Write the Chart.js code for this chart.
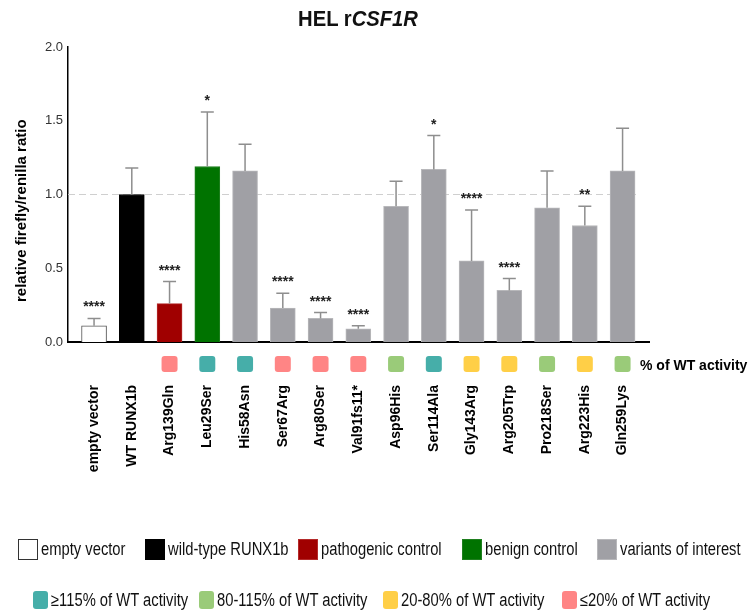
<!DOCTYPE html>
<html><head><meta charset="utf-8">
<script src="https://cdn.jsdelivr.net/npm/chart.js@4.4.1/dist/chart.umd.min.js"></script>
<style>
html,body{margin:0;padding:0;background:#fff;}
#wrap{position:relative;width:753px;height:614px;overflow:hidden;font-family:"Liberation Sans",Arial,sans-serif;}
#c{position:absolute;left:0;top:0;}
#title{position:absolute;top:8px;left:358px;transform:translateX(-50%) scaleX(0.92);white-space:nowrap;font-weight:bold;font-size:22px;line-height:22px;color:#111;}
.leg{position:absolute;display:flex;align-items:center;white-space:nowrap;font-family:"Liberation Sans",Arial,sans-serif;font-size:18px;color:#111;}
.sw{display:inline-block;box-sizing:border-box;margin-right:3px;flex:none;}
.lt{display:inline-block;transform:scaleX(0.82);transform-origin:0 50%;}
</style></head>
<body>
<div id="wrap">
<canvas id="c" width="753" height="614"></canvas>
<div id="title">HEL r<i>CSF1R</i></div>
</div>
<script>
// ---- data ----
const categories = ['empty vector','WT RUNX1b','Arg139Gln','Leu29Ser','His58Asn','Ser67Arg','Arg80Ser','Val91fs11*','Asp96His','Ser114Ala','Gly143Arg','Arg205Trp','Pro218Ser','Arg223His','Gln259Lys'];
const meanValues = [0.11,1.00,0.26,1.19,1.16,0.23,0.16,0.09,0.92,1.17,0.55,0.35,0.91,0.79,1.16];
const errorValues = [0.05,0.18,0.15,0.37,0.18,0.10,0.04,0.02,0.17,0.23,0.345,0.08,0.25,0.13,0.29];
const significance = ['****','','****','*','','****','****','****','','*','****','****','','**',''];
const barGroup = [0,1,2,3,4,4,4,4,4,4,4,4,4,4,4];
const activityClass = [null,null,3,0,0,3,3,3,1,0,2,2,1,2,1];
const yTickLabels = ['0.0','0.5','1.0','1.5','2.0'];

const groupLabels = ['empty vector','wild-type RUNX1b','pathogenic control','benign control','variants of interest'];
const groupColors = ['#ffffff','#000000','#a00000','#007300','#a0a0a5'];
const groupBorders = ['#555555','#000000','#b42a2a','#1f7f1f','#b8b8bb'];
const activityLabels = ['\u2265115% of WT activity','80-115% of WT activity','20-80% of WT activity','\u226420% of WT activity'];
const activityColors = ['#46aea9','#9acb79','#ffcf47','#ff8585'];
const yTitle = 'relative firefly/renilla ratio';

// ---- legends (HTML) ----
const wrap = document.getElementById('wrap');
function addItem(left, top, w, h, color, border, radius, label){
  const d = document.createElement('div'); d.className='leg';
  d.style.left = left+'px'; d.style.top = top+'px'; d.style.height = h+'px';
  const s = document.createElement('span'); s.className='sw';
  s.style.width=w+'px'; s.style.height=h+'px'; s.style.background=color;
  if (border) s.style.border = border;
  if (radius) s.style.borderRadius = radius+'px';
  const t = document.createElement('span'); t.className='lt'; t.textContent = label;
  d.appendChild(s); d.appendChild(t); wrap.appendChild(d);
}
const row1Left = [18,145,298,462,597];
groupLabels.forEach((lab,i)=> addItem(row1Left[i], 539, 20, 21, groupColors[i], i===0 ? '1.5px solid #333' : '1px solid '+groupBorders[i], 0, lab));
const row2Left = [33,199,383,562];
activityLabels.forEach((lab,i)=> addItem(row2Left[i], 591, 15, 18, activityColors[i], null, 3, lab));

// ---- overlay plugin ----
const FONT = '"Liberation Sans", Arial, sans-serif';
const overlay = {
  id:'overlay',
  beforeDatasetsDraw(chart){
    const {ctx, chartArea, scales:{x,y}} = chart;
    ctx.save();
    ctx.strokeStyle='#cfcfcf'; ctx.lineWidth=1.2; ctx.setLineDash([7,4]);
    const yy = y.getPixelForValue(1);
    ctx.beginPath(); ctx.moveTo(chartArea.left, yy); ctx.lineTo(x.getPixelForValue(categories.length-1)+15, yy); ctx.stroke();
    ctx.restore();
  },
  afterDatasetsDraw(chart){
    const {ctx, chartArea, scales:{x,y}} = chart;
    ctx.save();
    meanValues.forEach((v,i)=>{
      const px = x.getPixelForValue(i);
      const y0 = y.getPixelForValue(v), y1 = y.getPixelForValue(v+errorValues[i]);
      ctx.strokeStyle='#8e8e8e'; ctx.lineWidth=1.5;
      ctx.beginPath(); ctx.moveTo(px,y0); ctx.lineTo(px,y1); ctx.moveTo(px-6.5,y1); ctx.lineTo(px+6.5,y1); ctx.stroke();
      if (significance[i]) {
        ctx.fillStyle='#222'; ctx.font='bold 14px '+FONT; ctx.textAlign='center'; ctx.textBaseline='alphabetic';
        ctx.fillText(significance[i], px, y1-15+8);
      }
    });
    activityClass.forEach((c,i)=>{
      if (c===null) return;
      const px = x.getPixelForValue(i);
      ctx.fillStyle = activityColors[c];
      ctx.beginPath(); ctx.roundRect(px-8, chartArea.bottom+14, 16, 16, 3); ctx.fill();
    });
    ctx.fillStyle='#000'; ctx.font='bold 14px '+FONT; ctx.textAlign='left'; ctx.textBaseline='middle';
    ctx.fillText('% of WT activity', chartArea.right-9, chartArea.bottom+24);
    // y-axis title
    ctx.save();
    ctx.translate(22, y.getPixelForValue(0.89));
    ctx.rotate(-Math.PI/2);
    ctx.font='bold 15px '+FONT; ctx.textAlign='center'; ctx.textBaseline='middle'; ctx.fillStyle='#000';
    ctx.fillText(yTitle, 0, 0);
    ctx.restore();
    ctx.restore();
  }
};

new Chart(document.getElementById('c'), {
  type:'bar',
  data:{ datasets:[{
    data: categories.map((c,i)=>({x:i, y:meanValues[i]})),
    backgroundColor: barGroup.map(g=>groupColors[g]),
    borderColor: barGroup.map(g=>groupBorders[g]),
    borderWidth: 1,
    barThickness: 25
  }]},
  options:{
    responsive:false, animation:false, devicePixelRatio:1,
    layout:{padding:{left:9, top:47, right:104, bottom:0}},
    plugins:{legend:{display:false}, tooltip:{enabled:false}, title:{display:false}},
    scales:{
      x:{type:'linear', min:-0.69, max:14.7, offset:false,
        grid:{display:false, drawTicks:false}, border:{display:true, color:'#000', width:2},
        ticks:{stepSize:1, autoSkip:false, includeBounds:false, maxRotation:90, minRotation:90, padding:43,
          color:'#000', font:{family:FONT, size:14, weight:'bold'},
          callback:(v)=>{ const k=Math.round(v); return Math.abs(v-k)<1e-6 && categories[k]!==undefined ? categories[k] : ''; }},
        afterFit:(s)=>{ s.height = 272; }
      },
      y:{min:0, max:2,
        grid:{display:false, drawTicks:false}, border:{display:true, color:'#000', width:1.5},
        ticks:{stepSize:0.5, padding:5, color:'#333', font:{family:FONT, size:13},
          callback:(v)=> yTickLabels[Math.round(v/0.5)] },
        title:{display:false},
        afterFit:(s)=>{ s.width = 59; }
      }
    }
  },
  plugins:[overlay]
});
</script>
</body></html>
